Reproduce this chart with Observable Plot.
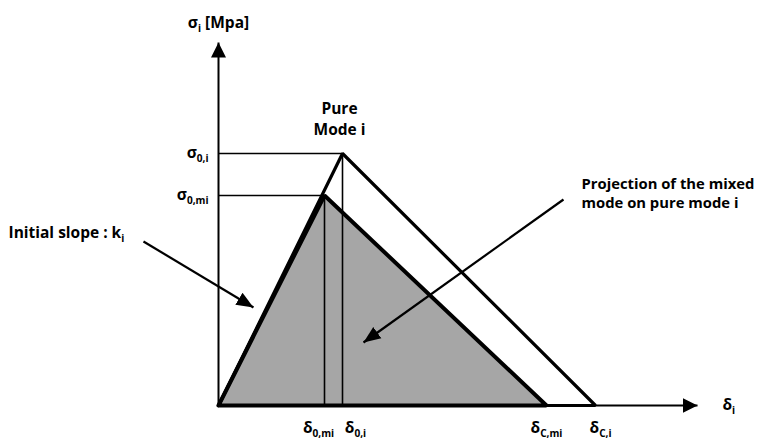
<!DOCTYPE html>
<html>
<head>
<meta charset="utf-8">
<script src="https://cdn.jsdelivr.net/npm/d3@7"></script>
<script src="https://cdn.jsdelivr.net/npm/@observablehq/plot@0.6"></script>
<style>
  html, body { margin: 0; padding: 0; background: #ffffff; }
  #chart svg { display: block; overflow: visible; }
</style>
</head>
<body>
<div id="chart"></div>
<script>
// ---- data (arbitrary units: separation δ, traction σ) ----
const deltaNames = ["δ_{0,mi}", "δ_{0,i}", "δ_{C,mi}", "δ_{C,i}"];
const deltaValues = [1.06, 1.24, 3.28, 3.77];
const sigmaNames = ["σ_{0,i}", "σ_{0,mi}"];
const sigmaValues = [2.52, 2.10];
const axisEnds = { x: 4.79, y: 3.63 };
const xMax = 5.2;

// annotation texts and their anchor points (data units)
const annotationTexts = ["Initial slope : k_{i}", "Projection of the mixed\nmode on pure mode i", "Pure\nMode i"];
const annotationX = [-2.10, 3.63, 1.21];
const annotationY = [1.72, 2.13, 2.88];
const arrowFromX = [-0.75, 3.45];
const arrowFromY = [1.64, 2.06];
const arrowToX = [0.35, 1.45];
const arrowToY = [0.98, 0.63];

// ---- derived tables ----
const [d0mi, d0i, dCmi, dCi] = deltaValues;
const [s0i, s0mi] = sigmaValues;
const pureMode = [
  {x: 0, y: 0}, {x: d0i, y: s0i}, {x: dCi, y: 0}, {x: 0, y: 0}
];
const mixedMode = [
  {x: 0, y: 0}, {x: d0mi, y: s0mi}, {x: dCmi, y: 0}, {x: 0, y: 0}
];
const sigmaRefs = sigmaNames.map((n, i) => ({name: n, sigma: sigmaValues[i], delta: [d0i, d0mi][i]}));
const deltaRefs = [
  {name: deltaNames[0], delta: d0mi, sigma: s0mi},
  {name: deltaNames[1], delta: d0i, sigma: s0i}
];
const deltaLabels = deltaNames.map((n, i) => ({name: n, delta: deltaValues[i]}));
const axes = [
  {x1: 0, y1: 0, x2: axisEnds.x, y2: 0},
  {x1: 0, y1: 0, x2: 0, y2: axisEnds.y}
];
const arrows = arrowFromX.map((x, i) => ({x1: x, y1: arrowFromY[i], x2: arrowToX[i], y2: arrowToY[i]}));
const notes = annotationTexts.map((t, i) => ({text: t, x: annotationX[i], y: annotationY[i]}));

// filled triangular arrow head marker
function filledArrow(len, half) {
  return (color) => {
    const ns = "http://www.w3.org/2000/svg";
    const m = document.createElementNS(ns, "marker");
    m.setAttribute("viewBox", `${-len} ${-len / 2} ${len} ${len}`);
    m.setAttribute("markerWidth", len);
    m.setAttribute("markerHeight", len);
    m.setAttribute("markerUnits", "userSpaceOnUse");
    m.setAttribute("orient", "auto");
    m.setAttribute("refX", 0);
    m.setAttribute("refY", 0);
    const p = document.createElementNS(ns, "path");
    p.setAttribute("d", `M0,0L${-len},${-half}L${-len},${half}Z`);
    p.setAttribute("fill", "#000");
    p.setAttribute("stroke", "none");
    m.appendChild(p);
    return m;
  };
}

const font = "'Open Sans', 'DejaVu Sans', sans-serif";
const fs = 15.5;

const plot = Plot.plot({
  width: 761,
  height: 441,
  marginLeft: 218,
  marginRight: 23,
  marginTop: 42,
  marginBottom: 36,
  x: {domain: [0, xMax], axis: null},
  y: {domain: [0, axisEnds.y], axis: null},
  style: {background: "#ffffff", fontFamily: font, overflow: "visible"},
  marks: [
    // reference lines
    Plot.link(sigmaRefs, {x1: 0, x2: "delta", y1: "sigma", y2: "sigma", stroke: "#000", strokeWidth: 1.6}),
    // mixed-mode triangle (projection)
    Plot.areaY(mixedMode.slice(0, 3), {x: "x", y: "y", fill: "#a6a6a6", curve: "linear"}),
    Plot.line(mixedMode, {x: "x", y: "y", stroke: "#000", strokeWidth: 4, strokeLinejoin: "miter"}),
    // pure mode triangle
    Plot.line(pureMode, {x: "x", y: "y", stroke: "#000", strokeWidth: 3.2, strokeLinejoin: "miter"}),
    Plot.link(deltaRefs, {x1: "delta", x2: "delta", y1: 0, y2: "sigma", stroke: "#000", strokeWidth: 1.6}),
    // axes
    Plot.link(axes, {x1: "x1", y1: "y1", x2: "x2", y2: "y2", stroke: "#000", strokeWidth: 2, markerEnd: filledArrow(15, 7.5)}),
    // annotation arrows
    Plot.link(arrows, {x1: "x1", y1: "y1", x2: "x2", y2: "y2", stroke: "#000", strokeWidth: 2.2, markerEnd: filledArrow(17, 7)}),
    // axis titles
    Plot.text(["σ_{i} [Mpa]"], {x: 0, y: axisEnds.y, text: d => d, dy: -19, fontWeight: "bold", fontSize: fs, fill: "#000"}),
    Plot.text(["δ_{i}"], {x: axisEnds.x, y: 0, text: d => d, dx: 25, textAnchor: "start", fontWeight: "bold", fontSize: fs, fill: "#000"}),
    // σ tick labels
    Plot.text(sigmaRefs, {x: 0, y: "sigma", text: "name", dx: -10, textAnchor: "end", fontWeight: "bold", fontSize: fs, fill: "#000"}),
    // δ tick labels
    Plot.text(deltaLabels.slice(0, 1), {x: "delta", y: 0, text: "name", dy: 23, dx: -6, fontWeight: "bold", fontSize: fs, fill: "#000"}),
    Plot.text(deltaLabels.slice(1, 2), {x: "delta", y: 0, text: "name", dy: 23, dx: 13, fontWeight: "bold", fontSize: fs, fill: "#000"}),
    Plot.text(deltaLabels.slice(2, 3), {x: "delta", y: 0, text: "name", dy: 23, fontWeight: "bold", fontSize: fs, fill: "#000"}),
    Plot.text(deltaLabels.slice(3, 4), {x: "delta", y: 0, text: "name", dy: 23, dx: 5, fontWeight: "bold", fontSize: fs, fill: "#000"}),
    // annotations
    Plot.text(notes.slice(0, 1), {x: "x", y: "y", text: "text", textAnchor: "start", fontWeight: "bold", fontSize: fs, fill: "#000"}),
    Plot.text(notes.slice(1, 2), {x: "x", y: "y", text: "text", textAnchor: "start", lineHeight: 1.28, fontWeight: "bold", fontSize: 14.8, fill: "#000"}),
    Plot.text(notes.slice(2, 3), {x: "x", y: "y", text: "text", lineHeight: 1.36, fontWeight: "bold", fontSize: fs, fill: "#000"})
  ]
});

// turn "_{...}" into real subscripts
d3.select(plot).selectAll("text").each(function () {
  const t = this.textContent;
  if (!t.includes("_{")) return;
  const el = d3.select(this);
  el.text(null);
  const parts = t.split(/_\{([^}]*)\}/);
  const shift = fs * 0.25;
  parts.forEach((p, i) => {
    if (!p) return;
    const sp = el.append("tspan").text(p);
    if (i % 2 === 1) {
      sp.attr("font-size", fs * 0.65).attr("dy", shift);
    } else if (i > 0) {
      sp.attr("dy", -shift);
    }
  });
});

document.getElementById("chart").appendChild(plot);
</script>
</body>
</html>
